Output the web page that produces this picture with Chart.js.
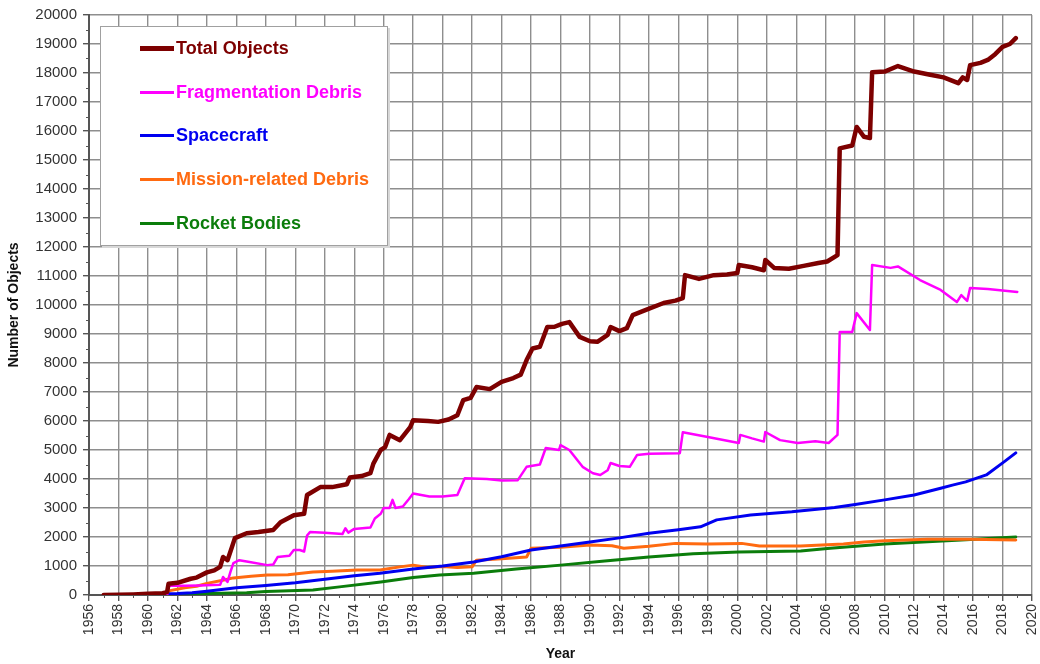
<!DOCTYPE html>
<html>
<head>
<meta charset="utf-8">
<script src="https://cdn.jsdelivr.net/npm/chart.js@4"></script>
<style>
    html, body { margin: 0; padding: 0; background: #fff; }
    #wrap { position: relative; width: 1040px; height: 664px; }
    #legend {
        position: absolute; left: 100px; top: 26px; width: 286px; height: 218px;
        background: #fff; border: 1px solid #a0a0a0; box-shadow: 2px 2px 0 #d8d8d8;
        font: bold 18px "Liberation Sans", Arial, sans-serif;
    }
    .row { display: flex; align-items: center; height: 43.6px; padding-left: 39px; }
    .swatch { width: 34px; margin-right: 2px; }
</style>
</head>
<body>
<div id="wrap">
    <canvas id="chart" width="1040" height="664"></canvas>
    <div id="legend"></div>
</div>
<script>
// --- Data ---
const seriesNames = ['Total Objects', 'Fragmentation Debris', 'Spacecraft', 'Mission-related Debris', 'Rocket Bodies'];
const seriesColors = ['#7d0000', '#ff00ff', '#0000f0', '#ff6a10', '#0b7d0b'];
const seriesWidths = [4.5, 2.5, 3, 3, 3];

const totalYears = [1957, 1958, 1959, 1960, 1961, 1961.3, 1961.4, 1962, 1962.9, 1963.3, 1964, 1964.5, 1964.9, 1965.1, 1965.4, 1965.7, 1965.9,
    1966.7, 1967.5, 1968.5, 1969, 1969.9, 1970.6, 1970.8, 1971.7, 1972.5, 1973.5, 1973.7, 1974.5, 1975.1, 1975.3, 1975.8, 1976.1,
    1976.4, 1977.1, 1977.8, 1978, 1979, 1979.7, 1980.4, 1981, 1981.4, 1981.9, 1982.3, 1983.2, 1984, 1984.8, 1985.3, 1985.7, 1986.1,
    1986.6, 1987.1, 1987.6, 1988.1, 1988.6, 1989.3, 1990, 1990.5, 1991.2, 1991.4, 1992, 1992.5, 1992.9, 1993.8, 1995, 1995.8, 1996.3,
    1996.45, 1997.4, 1998.4, 1999.3, 2000, 2000.1, 2001, 2001.8, 2001.9, 2002.5, 2003.5, 2004.5, 2005.5, 2006.1, 2006.8, 2006.95,
    2007.8, 2008.1, 2008.6, 2009, 2009.15, 2010, 2010.9, 2012, 2013, 2014, 2015, 2015.3, 2015.6, 2015.8, 2016.5, 2017, 2017.5,
    2018, 2018.5, 2018.9];
const totalValues = [0, 10, 20, 40, 60, 100, 390, 420, 560, 600, 780, 850, 970, 1310, 1200, 1650, 1960,
    2130, 2170, 2240, 2510, 2750, 2800, 3450, 3720, 3720, 3820, 4050, 4100, 4200, 4530, 5000, 5100,
    5520, 5340, 5790, 6030, 6000, 5970, 6050, 6200, 6720, 6800, 7170, 7100, 7350, 7480, 7600, 8100, 8500,
    8560, 9240, 9250, 9350, 9410, 8900, 8750, 8730, 8970, 9240, 9100, 9200, 9650, 9830, 10070, 10150, 10240,
    11030, 10900, 11030, 11050, 11100, 11380, 11300, 11200, 11550, 11280, 11250, 11350, 11450, 11500, 11720, 15400,
    15500, 16140, 15800, 15760, 18030, 18050, 18240, 18050, 17950, 17850, 17650, 17850, 17760, 18270, 18350, 18450, 18650,
    18900, 19000, 19200];

const fragYears = [1961.3, 1961.4, 1962.5, 1963.5, 1964.9, 1965.1, 1965.4, 1965.6, 1965.8, 1966.2, 1966.8, 1968.1, 1968.5, 1968.8,
    1969.6, 1969.9, 1970.3, 1970.6, 1970.8, 1971, 1972, 1973.2, 1973.4, 1973.6, 1974, 1975.1, 1975.4, 1975.8, 1976, 1976.4, 1976.6,
    1976.8, 1977.3, 1977.7, 1978, 1979.1, 1980, 1981, 1981.5, 1983, 1984, 1985.1, 1985.7, 1986.6, 1987, 1987.9, 1988, 1988.6,
    1989.5, 1990.2, 1990.7, 1991.2, 1991.4, 1992, 1992.7, 1993.2, 1994, 1996.1, 1996.3, 1998, 2000.1, 2000.2, 2001, 2001.8, 2001.9,
    2002.9, 2004.1, 2005.3, 2006.2, 2006.8, 2006.95, 2007.8, 2008.1, 2009, 2009.15, 2010.4, 2010.9, 2012.4, 2013.8, 2014.9, 2015.2,
    2015.6, 2015.8, 2017, 2018, 2019];
const fragValues = [0, 320, 320, 330, 350, 620, 450, 800, 1100, 1200, 1150, 1030, 1050, 1310,
    1350, 1550, 1550, 1500, 2050, 2170, 2150, 2100, 2300, 2150, 2280, 2330, 2640, 2800, 3000, 3000, 3280,
    3000, 3050, 3300, 3500, 3400, 3400, 3450, 4030, 4000, 3950, 3960, 4420, 4500, 5070, 5000, 5170, 5000,
    4420, 4200, 4140, 4300, 4550, 4450, 4420, 4830, 4870, 4890, 5610, 5450, 5240, 5520, 5400, 5290, 5620,
    5340, 5240, 5300, 5240, 5520, 9070, 9070, 9720, 9140, 11380, 11280, 11330, 10860, 10520, 10100, 10340,
    10140, 10590, 10550, 10500, 10450];

const craftYears = [1957, 1958, 1960, 1962, 1963, 1964, 1966, 1968, 1970, 1972, 1974, 1975.75, 1978, 1980, 1982.1, 1984, 1986,
    1988, 1990, 1992, 1994, 1996, 1997.5, 1998.6, 2000.9, 2003.7, 2006.6, 2008, 2010, 2012, 2013.8, 2014.6, 2015.5, 2016.9,
    2018.1, 2018.9];
const craftValues = [0, 5, 20, 50, 80, 130, 250, 330, 420, 540, 660, 750, 900, 1000, 1140, 1320, 1550,
    1690, 1830, 1970, 2130, 2250, 2350, 2590, 2760, 2870, 3020, 3120, 3280, 3450, 3680, 3790, 3900, 4140,
    4590, 4900];

const missionYears = [1957, 1960, 1961, 1961.5, 1962.5, 1963.3, 1964, 1965, 1965.8, 1967, 1968.1, 1969.5, 1971.2, 1972.5, 1974.2,
    1975.75, 1977.1, 1978, 1979, 1980, 1981, 1982, 1982.3, 1984, 1985.7, 1986, 1988, 1990, 1991.5, 1992.3, 1994, 1995.8, 1998,
    2000.3, 2001.5, 2004.3, 2007.2, 2008.6, 2010, 2012.9, 2015.8, 2018.9];
const missionValues = [0, 20, 60, 150, 250, 300, 400, 500, 590, 650, 690, 700, 790, 820, 860,
    860, 970, 1030, 950, 980, 950, 970, 1200, 1250, 1310, 1610, 1650, 1720, 1700, 1610, 1680, 1780, 1760,
    1780, 1690, 1690, 1760, 1830, 1870, 1920, 1920, 1900];

const rocketYears = [1957, 1962, 1964, 1966.7, 1968, 1971.2, 1973, 1975.8, 1978, 1979.8, 1982.1, 1985, 1988, 1991, 1994, 1997,
    2000.1, 2004.3, 2006.3, 2010, 2015.2, 2018.9];
const rocketValues = [0, 20, 50, 80, 120, 170, 280, 450, 600, 690, 750, 900, 1030, 1170, 1310, 1420,
    1480, 1520, 1610, 1760, 1900, 2000];

const xMin = 1956, xMax = 2020, xStep = 2;
const yMin = 0, yMax = 20000, yStep = 1000;

// --- Build ---
const toPoints = (xs, ys) => xs.map((x, i) => ({ x: x, y: ys[i] }));
const seriesData = [
    toPoints(totalYears, totalValues),
    toPoints(fragYears, fragValues),
    toPoints(craftYears, craftValues),
    toPoints(missionYears, missionValues),
    toPoints(rocketYears, rocketValues)
];

const FONT = '"Liberation Sans", Arial, sans-serif';

// small minor ticks: every year on x, every 500 on y
const minorTicks = {
    id: 'minorTicks',
    afterDraw(chart) {
        const ctx = chart.ctx;
        const xs = chart.scales.x, ys = chart.scales.y;
        const area = chart.chartArea;
        ctx.save();
        ctx.strokeStyle = '#555';
        ctx.lineWidth = 1;
        ctx.beginPath();
        for (let yr = xMin + 1; yr < xMax; yr += 2) {
            const px = Math.round(xs.getPixelForValue(yr)) + 0.5;
            ctx.moveTo(px, area.bottom);
            ctx.lineTo(px, area.bottom + 3);
        }
        for (let v = yMin + yStep / 2; v < yMax; v += yStep) {
            const py = Math.round(ys.getPixelForValue(v)) + 0.5;
            ctx.moveTo(area.left, py);
            ctx.lineTo(area.left - 3, py);
        }
        ctx.stroke();
        ctx.restore();
    }
};

new Chart(document.getElementById('chart'), {
    type: 'line',
    data: {
        datasets: seriesNames.map((name, i) => ({
            label: name,
            data: seriesData[i],
            borderColor: seriesColors[i],
            backgroundColor: seriesColors[i],
            borderWidth: seriesWidths[i],
            pointRadius: 0,
            tension: 0,
            borderJoinStyle: 'round',
            borderCapStyle: 'round'
        }))
    },
    options: {
        responsive: false,
        animation: false,
        devicePixelRatio: 1,
        layout: { padding: { top: 15, right: 8, left: 0, bottom: 0 } },
        plugins: {
            legend: { display: false },
            tooltip: { enabled: false }
        },
        scales: {
            x: {
                type: 'linear',
                min: xMin,
                max: xMax,
                afterFit(scale) {
                    scale.height = 69;
                    // rotated labels would otherwise push the plot in from the right
                    scale.paddingRight = 0;
                    scale.paddingLeft = 0;
                },
                ticks: {
                    stepSize: xStep,
                    minRotation: 90,
                    maxRotation: 90,
                    padding: 3,
                    color: '#333',
                    font: { family: FONT, size: 14 },
                    callback: v => String(v)
                },
                grid: { color: '#8e8e8e', lineWidth: 1.4, tickLength: 6, tickColor: '#555' },
                border: { color: '#555', width: 2 },
                title: {
                    display: true,
                    text: 'Year',
                    color: '#111',
                    padding: { top: 0, bottom: 1 },
                    font: { family: FONT, size: 14, weight: 'bold' }
                }
            },
            y: {
                min: yMin,
                max: yMax,
                afterFit(scale) { scale.width = 89; },
                ticks: {
                    stepSize: yStep,
                    padding: 6,
                    color: '#333',
                    font: { family: FONT, size: 15 },
                    callback: v => String(v)
                },
                grid: { color: '#8e8e8e', lineWidth: 1.4, tickLength: 6, tickColor: '#555' },
                border: { color: '#555', width: 2 },
                title: {
                    display: true,
                    text: 'Number of Objects',
                    color: '#111',
                    padding: { top: 6, bottom: 0 },
                    font: { family: FONT, size: 14, weight: 'bold' }
                }
            }
        }
    },
    plugins: [minorTicks]
});

// --- Legend box ---
const legend = document.getElementById('legend');
seriesNames.forEach((name, i) => {
    const row = document.createElement('div');
    row.className = 'row';
    row.innerHTML = `<span class="swatch" style="height:${seriesWidths[i] >= 4 ? 5 : 3}px;background:${seriesColors[i]}"></span>` +
        `<span style="color:${seriesColors[i]}">${name}</span>`;
    legend.appendChild(row);
});
</script>
</body>
</html>
